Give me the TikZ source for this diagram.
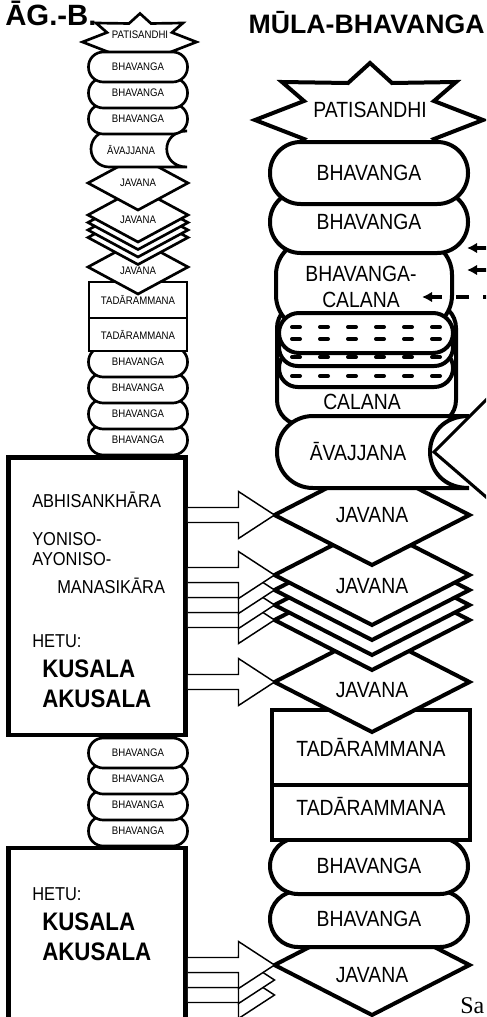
\documentclass[tikz,border=0pt]{standalone}
\usepackage{fontspec}
\setmainfont{Liberation Sans}
\newfontfamily\nar{Liberation Sans}[FakeStretch=0.88]
\newfontfamily\tms{Liberation Serif}
\usetikzlibrary{shapes.geometric,calc,arrows.meta}
\newcommand\blockarr[2]{%
  \filldraw[blk] ($(#1.east |- #2)+(0,-7.5)$) -- ($(#2)+(-36,-7.5)$) -- ($(#2)+(-36,-23.5)$) -- (#2) -- ($(#2)+(-36,23.5)$) -- ($(#2)+(-36,7.5)$) -- ($(#1.east |- #2)+(0,7.5)$);}
\tikzset{
  pics/pstar/.style={code={%
    \filldraw[fill=white,line join=miter] (0,-57) -- (22,-37) -- (86,-38) -- (64,-19) -- (113,0) -- (64,19) -- (86,38) -- (22,37) -- (0,57) -- (-22,37) -- (-88,38) -- (-66,19) -- (-115,0) -- (-66,-19) -- (-88,-38) -- (-22,-37) -- cycle;}}
}
\begin{document}
\begin{tikzpicture}[x=0.75pt,y=-0.75pt,
  lab/.style={font=\nar\fontsize{16.5}{20}\selectfont},
  slab/.style={font=\nar\fontsize{8.2}{10}\selectfont},
  btxt/.style={font=\nar\fontsize{14}{16}\selectfont, anchor=base west, inner sep=0pt},
  bbold/.style={font=\nar\bfseries\fontsize{19}{22}\selectfont, anchor=base west, inner sep=0pt},
  ttl/.style={font=\bfseries\fontsize{20}{24}\selectfont, inner sep=0pt},
  big/.style={draw, fill=white, line width=3pt, inner sep=0pt, outer sep=0pt},
  sml/.style={draw, fill=white, line width=2pt, inner sep=0pt, outer sep=0pt},
  bbh/.style={big, lab, rectangle, minimum width=148.5pt, minimum height=46.5pt, rounded corners=23pt},
  bbhl/.style={big, lab, rectangle, minimum width=148.5pt, minimum height=42pt, rounded corners=21pt},
  bjav/.style={big, lab, diamond, minimum width=146.25pt, minimum height=75pt},
  btad/.style={big, lab, rectangle, minimum width=148.5pt},
  sbh/.style={sml, slab, rectangle, minimum width=74.25pt, minimum height=22.5pt, rounded corners=11pt},
  sjav/.style={sml, slab, diamond, minimum width=75pt, minimum height=40.5pt},
  stad/.style={sml, slab, rectangle, minimum width=73.5pt},
  hbox/.style={draw, fill=white, line width=3.4pt, minimum width=132.75pt, inner sep=0pt},
  blk/.style={draw, fill=white, line width=1.1pt, line join=miter},
  darr/.style={line width=2.6pt, dash pattern=on 9.75pt off 10.5pt, -{Latex[length=7.5pt,width=8pt]}},
  dashrow/.style={line width=3pt, line cap=round, dash pattern=on 6pt off 15pt},
]
\useasboundingbox (0,0) rectangle (486,1017);
\fill[white] (0,0) rectangle (486,1017);
\clip (0,0) rectangle (486,1017);

% ---------------- big column (drawn bottom first) ----------------
\node[bjav] (jb) at (372,965) {};
\node[lab] (jbt) at (372,975) {JAVANA};
\node[bbhl] (bh4) at (369,919) {BHAVANGA};
\node[bbhl] (bh3) at (369,866) {BHAVANGA};
\node[btad, minimum height=41.25pt] (t2) at (371,812.5) {};
\node[lab] (t2t) at (371,806) {TADĀRAMMANA};
\node[btad, minimum height=56.25pt] (t1) at (371,747.5) {TADĀRAMMANA};
\node[bjav] (j3) at (372,682) {};
\node[lab] (j3t) at (372,690) {JAVANA};
\node[bjav] (j2d) at (372,620) {};
\node[bjav] (j2c) at (372,605) {};
\node[bjav] (j2b) at (372,590) {};
\node[bjav] (j2) at (372,575) {};
\node[lab] (j2t) at (372,586) {JAVANA};
\node[bjav] (j1) at (372,515) {JAVANA};
% calana back shape
\node[big, rectangle, minimum width=134.25pt, minimum height=91.5pt, rounded corners=18.75pt] (cal) at (366.5,364) {};
\node[lab] (calt) at (362,402) {CALANA};
% avajjana
\filldraw[line width=3pt, fill=white] (469,416) -- (313,416) .. controls (293,416) and (277,432) .. (277,452) .. controls (277,472) and (293,488) .. (313,488) -- (469,488) .. controls (417,488) and (417,416) .. (469,416) -- cycle;
\node[lab] (av) at (358,452) {ĀVAJJANA};
% bhavanga-calana
\node[big, rectangle, minimum width=132pt, minimum height=67.5pt, rounded corners=26pt] (bc) at (364,285) {};
\node[lab, align=center] (bct) at (361,287) {BHAVANGA-\\CALANA};
% dashed layers
\node[big, rectangle, minimum width=130.5pt, minimum height=28.5pt, rounded corners=14pt] (d3) at (366,368) {};
\draw[dashrow] (292,376) -- (446,376);
\node[big, rectangle, minimum width=130.5pt, minimum height=28.5pt, rounded corners=14pt] (d2) at (366,347) {};
\draw[dashrow] (292,357) -- (446,357);
\node[big, rectangle, minimum width=130.5pt, minimum height=30pt, rounded corners=15pt] (d1) at (366,333) {};
\draw[dashrow] (292,327) -- (446,327);
\draw[dashrow] (292,339) -- (446,339);
\node[bbh] (bh2) at (369,222) {BHAVANGA};
\pic[line width=3pt] at (370,120) {pstar};
\node[lab] (pat) at (370,110) {PATISANDHI};
\node[bbh] (bh1) at (369,173) {BHAVANGA};

% ---------------- small column ----------------
\node[sbh] (lb4) at (138,831) {BHAVANGA};
\node[sbh] (lb3) at (138,805) {BHAVANGA};
\node[sbh] (lb2) at (138,779) {BHAVANGA};
\node[sbh] (lb1) at (138,753) {BHAVANGA};
\node[hbox, minimum height=144pt] (box2) at (97,944) {};
\node[hbox, minimum height=208.1pt] (box1) at (97,596.25) {};
\node[sbh] (sb7) at (138,440) {BHAVANGA};
\node[sbh] (sb6) at (138,414) {BHAVANGA};
\node[sbh] (sb5) at (138,388) {BHAVANGA};
\node[sbh] (sb4) at (138,362) {BHAVANGA};
\node[stad, minimum height=24.75pt] (st2) at (138,334.5) {TADĀRAMMANA};
\node[stad, minimum height=27pt] (st1) at (138,300) {TADĀRAMMANA};
\node[sjav] (sj3) at (138,267) {};
\node[slab] (sj3t) at (138,271) {JAVANA};
\node[sjav] (sj2d) at (138,237.5) {};
\node[sjav] (sj2c) at (138,230) {};
\node[sjav] (sj2b) at (138,222.5) {};
\node[sjav] (sj2) at (138,215) {};
\node[slab] (sj2t) at (138,220) {JAVANA};
\node[sjav] (sj1) at (138,183) {JAVANA};
\filldraw[line width=2pt, fill=white] (187,131) -- (109,131) .. controls (99,131) and (91,139) .. (91,149) .. controls (91,159) and (99,167) .. (109,167) -- (187,167) .. controls (160,167) and (160,131) .. (187,131) -- cycle;
\node[slab] (sav) at (131,150) {ĀVAJJANA};
\node[sbh] (sb3) at (138,119) {BHAVANGA};
\node[sbh] (sb2) at (138,93) {BHAVANGA};
\pic[line width=2pt, scale=0.5] at (140,42) {pstar};
\node[slab] (spat) at (140,35) {PATISANDHI};
\node[sbh] (sb1) at (138,67) {BHAVANGA};

% box texts
\node[btxt] (a1) at (32,507) {ABHISANKHĀRA};
\node[btxt] (a2) at (32,545) {YONISO-};
\node[btxt] (a3) at (32,565) {AYONISO-};
\node[btxt] (a4) at (57,593) {MANASIKĀRA};
\node[btxt] (a5) at (32,647) {HETU:};
\node[bbold] (a6) at (42,677) {KUSALA};
\node[bbold] (a7) at (42,707) {AKUSALA};
\node[btxt] (b5) at (32,900) {HETU:};
\node[bbold] (b6) at (42,930) {KUSALA};
\node[bbold] (b7) at (42,960) {AKUSALA};

% block arrows
\blockarr{box1}{j1.west}
\blockarr{box1}{j2d.west}
\blockarr{box1}{j2c.west}
\blockarr{box1}{j2b.west}
\blockarr{box1}{j2.west}
\blockarr{box1}{j3.west}
\coordinate (jbt3) at ($(jb.west)+(0,30)$);
\coordinate (jbt2) at ($(jb.west)+(0,15)$);
\blockarr{box2}{jbt3}
\blockarr{box2}{jbt2}
\blockarr{box2}{jb.west}

% arrows from the right
\coordinate (ds1) at (488,248); \coordinate (de1) at (467,248);
\coordinate (ds2) at (488,270); \coordinate (de2) at (467,270);
\coordinate (ds3) at (496,297); \coordinate (de3) at (422,297);
\draw[darr] (ds1) -- (de1);
\draw[darr] (ds2) -- (de2);
\draw[darr] (ds3) -- (de3);
\coordinate (vu) at (500,386); \coordinate (vt) at (434,452); \coordinate (vl) at (500,509);
\draw[line width=2.3pt, line join=miter] (vu) -- (vt) -- (vl);

% titles
\node[ttl, font=\bfseries\fontsize{22}{26}\selectfont, anchor=base west] (tl) at (5,26) {ĀG.-B.};
\node[ttl, anchor=base east] (tr) at (485,33) {MŪLA-BHAVANGA};
\node[font=\tms\fontsize{18}{20}\selectfont, anchor=base west, inner sep=0pt] (sa) at (460,1013) {Sa};
\end{tikzpicture}
\end{document}
